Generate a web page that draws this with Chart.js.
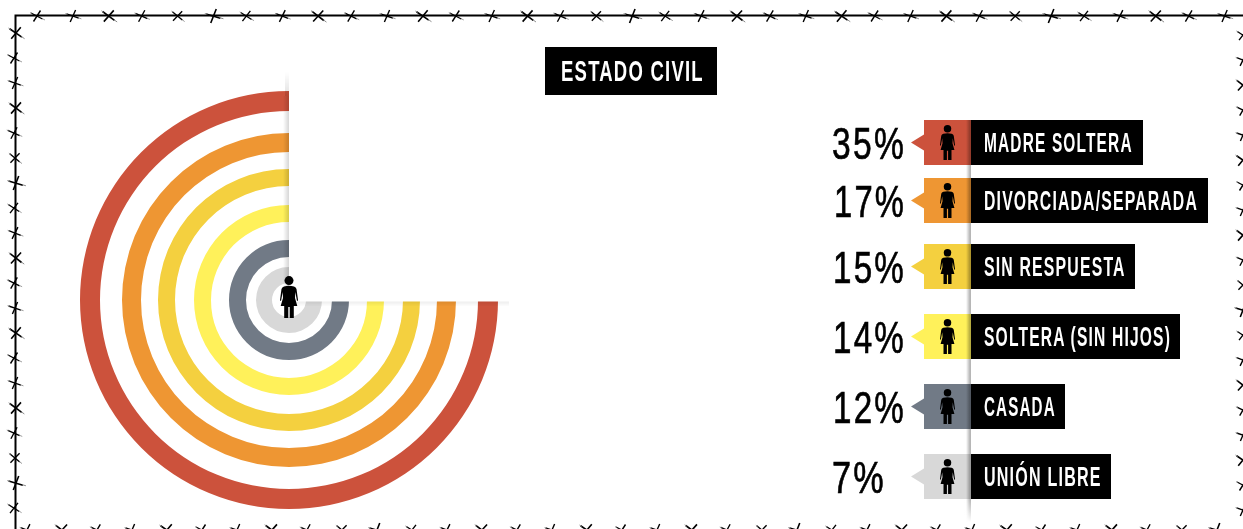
<!DOCTYPE html>
<html lang="es">
<head>
<meta charset="utf-8">
<title>Estado civil</title>
<script src="https://cdn.jsdelivr.net/npm/chart.js@4"></script>
<style>
html,body{margin:0;padding:0;background:#fff;width:1243px;height:529px;overflow:hidden}
#stage{position:relative;width:1243px;height:529px;overflow:hidden}
canvas{position:absolute;left:0;top:0}
svg{position:absolute;left:0;top:0;overflow:visible}
.label,.title{font-family:"Liberation Sans",sans-serif;font-weight:700;color:#fff;white-space:nowrap;transform-origin:0 50%;position:absolute;letter-spacing:2px}
.pct{font-family:"Liberation Sans",sans-serif;font-weight:400;color:#000;position:absolute;white-space:nowrap;transform-origin:0 50%;-webkit-text-stroke:.7px #000;letter-spacing:3px}
</style>
</head>
<body>
<div id="stage">
<canvas id="c" width="1243" height="529"></canvas>
<div id="overlay"></div>
</div>
<script>
const titleText = "ESTADO CIVIL";
const categories = ["MADRE SOLTERA","DIVORCIADA/SEPARADA","SIN RESPUESTA","SOLTERA (SIN HIJOS)","CASADA","UNIÓN LIBRE"];
const values = [35,17,15,14,12,7];
const colors = ["#CC523C","#EE9633","#F4D03F","#FFF15A","#717A86","#D8D8D8"];

// ring layout (px): thickness of each ring and of the white gap that follows it
const ringWidths = [20,19,17,17,17,16];
const gapWidths = [22,17,19,18,10];
// legend layout
const rowTops = [120,178,244,314,384,454];
const rowRights = [1143,1208,1135,1180,1065,1111];
const labelWidths = [149,214,142,187,72,118];
const pctLefts = [832,834,833,833,833,832];
const pctWidths = [74,72,73,73,73,54];

const datasets = [];
categories.forEach((name,i)=>{
  datasets.push({label:name,data:values.map((v,j)=>j===i?v:0),backgroundColor:colors,weight:ringWidths[i],borderWidth:0});
  if(i<gapWidths.length){
    datasets.push({label:"",data:values.map(()=>0),backgroundColor:"rgba(0,0,0,0)",weight:gapWidths[i],borderWidth:0});
  }
});

new Chart(document.getElementById("c"),{
  type:"doughnut",
  data:{labels:categories,datasets},
  options:{
    responsive:false,animation:false,
    rotation:90,circumference:270,cutout:17,
    layout:{padding:{left:80,right:745,top:91,bottom:20}},
    plugins:{legend:{display:false},tooltip:{enabled:false}}
  }
});

const ov=document.getElementById("overlay");
const NS="http://www.w3.org/2000/svg";
function el(tag,attrs,parent){const e=document.createElementNS(NS,tag);for(const k in attrs)e.setAttribute(k,attrs[k]);parent.appendChild(e);return e;}
const svg=el("svg",{width:1243,height:529,viewBox:"0 0 1243 529"},ov);
const defs=el("defs",{},svg);
function grad(id,x1,y1,x2,y2,stops,color){
  const g=el("linearGradient",{id,x1,y1,x2,y2},defs);
  stops.forEach(s=>el("stop",{offset:s[0],"stop-color":color||"#000","stop-opacity":s[1]},g));
}
grad("sv","0","0","1","0",[[0,0],[1,.16]]);
grad("sh","0","0","0","1",[[0,.07],[1,0]]);
grad("fadeT","0","0","0","1",[[0,0],[1,.12]]);
grad("strip","0","0","1","0",[[0,0],[.7,.26],[1,.3]]);
grad("fadeB","0","0","0","1",[[0,0],[1,1]],"#fff");

// blank quadrant and its soft shadow
el("rect",{x:289,y:72,width:256,height:229.5,fill:"#fff"},svg);
el("rect",{x:283,y:96,width:6,height:205,fill:"url(#sv)"},svg);
el("rect",{x:285,y:72,width:4,height:24,fill:"url(#fadeT)"},svg);
el("rect",{x:289,y:301.5,width:220,height:5,fill:"url(#sh)"},svg);

// barbed wire frame
const jitter=[0,-8,9,-4,12,-11,5,-6,10,-2,-9,7];
function barb(x,y,i){
  const big=i%3===2?1.15:1;
  const g=el("g",{transform:`translate(${x} ${y}) rotate(${jitter[i%jitter.length]}) scale(${big})`,stroke:"#000","stroke-width":1.4,fill:"none"},svg);
  el("path",{d:"M-6 -3L5.5 3M-3.5 5.5L3.5 -5.5"},g);
  el("path",{d:"M5 2.5L8 4M-5 -2.5L-7 -3.5",stroke:"#888","stroke-width":.8},g);
}
el("path",{d:"M1243 15.5H15.5V529",stroke:"#000","stroke-width":2,fill:"none"},svg);
let n=0;
for(let x=38;x<1243;x+=34.9)barb(x+(n%3-1),16,n++);
for(let y=33;y<529;y+=25)barb(15+(n%3-1),y,n++);
for(let x=27;x<1243;x+=35)barb(x,530,n++);
for(let y=35;y<529;y+=25)barb(1243,y,n++);

// figure
function woman(x,y,h,parent){
  const s=h/42;
  const g=el("g",{transform:`translate(${x} ${y}) scale(${s})`,fill:"#000"},parent);
  el("circle",{cx:9,cy:4.6,r:4.5},g);
  el("path",{d:"M4 10.5Q9 9 14 10.5Q16 11 16.5 13L18 24Q18 25 17 25L15.3 16L15 22L17.3 30H13.8V42H9.7V31H8.3V42H4.2V30H0.7L3 22L2.7 16L1 25Q0 25 0 24L1.5 13Q2 11 4 10.5Z"},g);
}

// legend rows
categories.forEach((name,i)=>{
  const top=rowTops[i],mid=top+22.5;
  el("rect",{x:924,y:top,width:47,height:45,fill:colors[i]},svg);
  el("path",{d:`M924 ${mid-8}L911 ${mid}L924 ${mid+8}Z`,fill:colors[i]},svg);
});
el("rect",{x:966,y:120,width:5,height:402,fill:"url(#strip)"},svg);
el("rect",{x:964,y:499,width:8,height:23,fill:"url(#fadeB)"},svg);
categories.forEach((name,i)=>{
  const top=rowTops[i];
  el("rect",{x:971,y:top,width:rowRights[i]-971,height:45,fill:"#000"},svg);
  woman(940,top+5,35,svg);
});
woman(280,276,42,svg);
el("rect",{x:545,y:47,width:172,height:48,fill:"#000"},svg);

function addText(cls,text,left,centerY,size,width){
  const d=document.createElement("div");
  d.className=cls;d.textContent=text;
  d.style.left=left+"px";d.style.fontSize=size+"px";d.style.lineHeight="40px";d.style.top=(centerY-20)+"px";
  ov.appendChild(d);
  d.style.transform=`scaleX(${width/d.offsetWidth})`;
}
addText("title",titleText,561,71,30,143);
categories.forEach((name,i)=>{
  addText("label",name,984,rowTops[i]+23,27,labelWidths[i]);
  addText("pct",values[i]+"%",pctLefts[i],rowTops[i]+24,45,pctWidths[i]);
});
</script>
</body>
</html>
